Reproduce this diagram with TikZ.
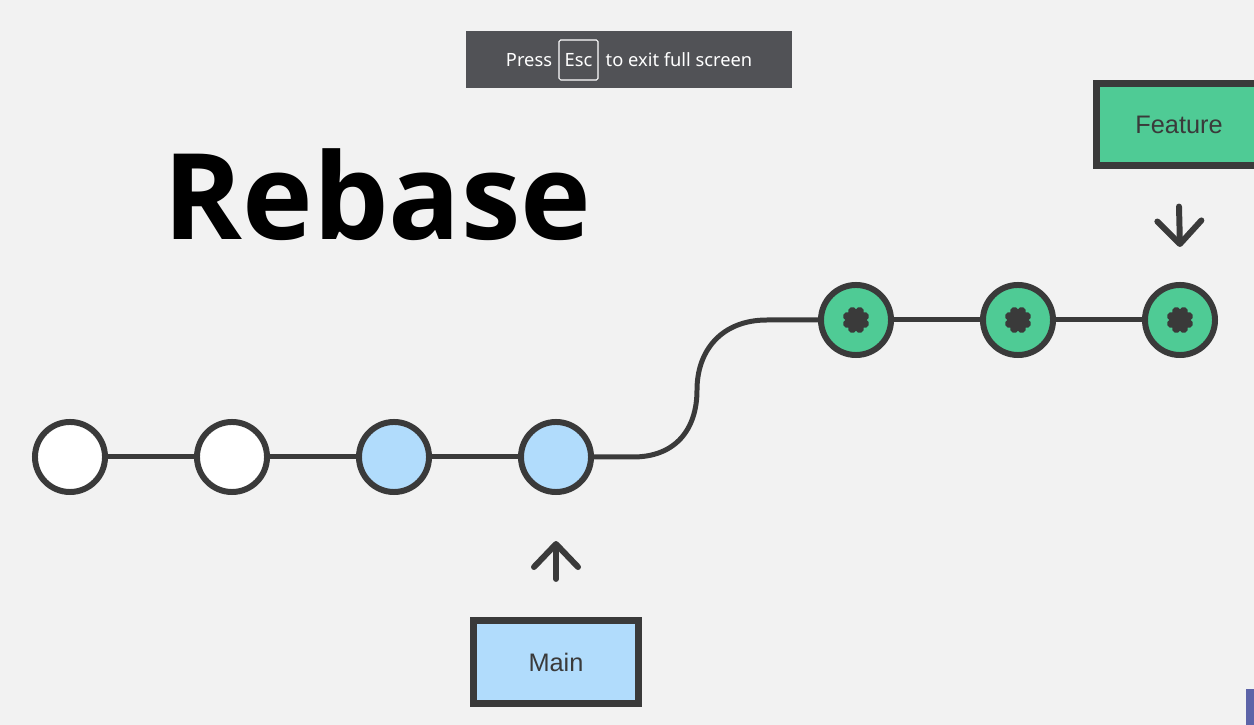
\documentclass[tikz,border=0pt]{standalone}
\usepackage{fontspec}
\setmainfont{Liberation Sans}
\newfontfamily\titlefont{Open Sans}
\newfontfamily\toastfont{Noto Sans}
\usetikzlibrary{arrows.meta,positioning}
\definecolor{bgcol}{HTML}{F2F2F2}
\definecolor{inkcol}{HTML}{3A3A3A}
\definecolor{maincol}{HTML}{B1DCFC}
\definecolor{featcol}{HTML}{4FCB95}
\definecolor{toastcol}{HTML}{515256}
\definecolor{cornercol}{HTML}{5D64A8}
\tikzset{
  commit/.style={circle,draw=inkcol,line width=1.7pt,minimum size=0.70cm,inner sep=0pt},
  link/.style={draw=inkcol,line width=1.42pt},
  branch/.style={draw=inkcol,line width=2pt,minimum width=1.65cm,minimum height=0.82cm,inner sep=0pt,font=\fontsize{7.2pt}{8pt}\selectfont,text=inkcol},
  pointer/.style={draw=inkcol,line width=1.7pt,line cap=round,-{Straight Barb[length=2.3mm,width=4.4mm,round]}},
  toast/.style={text=white,inner sep=0pt,font=\toastfont\fontsize{5.2pt}{6pt}\selectfont},
  petals/.style={draw=inkcol,line width=0.085cm,line cap=round}
}
\newcommand{\flower}[1]{%
  \draw[petals] (#1) +(22.5:0.095cm) -- +(202.5:0.095cm)
    +(67.5:0.095cm) -- +(247.5:0.095cm)
    +(112.5:0.095cm) -- +(292.5:0.095cm)
    +(157.5:0.095cm) -- +(337.5:0.095cm);
}
\begin{document}
\begin{tikzpicture}[x=0.01cm,y=-0.01cm]
  \useasboundingbox (0,0) rectangle (1254,725);
  \clip (0,0) rectangle (1254,725);
  \fill[bgcol] (0,0) rectangle (1254,725);
  % toast
  \fill[toastcol] (466,31) rectangle (792,88);
  \node[toast] (press) at (529,60) {Press};
  \node[toast,draw=white,line width=0.3pt,rounded corners=0.5pt,minimum width=0.39cm,minimum height=0.40cm] (esc) at (578.5,60) {Esc};
  \node[toast] (exit) at (679,60) {to exit full screen};
  % title
  \node[anchor=base west,inner sep=0pt,font=\titlefont\bfseries\fontsize{34pt}{40pt}\selectfont] (title) at (163,240) {Rebase};
  % commits
  \node[commit,fill=white] (m1) at (70,457) {};
  \node[commit,fill=white] (m2) at (232,457) {};
  \node[commit,fill=maincol] (m3) at (394,457) {};
  \node[commit,fill=maincol] (m4) at (556,457) {};
  \node[commit,fill=featcol] (f1) at (856,320) {};
  \node[commit,fill=featcol] (f2) at (1018,320) {};
  \node[commit,fill=featcol] (f3) at (1180,320) {};
  \draw[link] (m1) -- (m2);
  \draw[link] (m2) -- (m3);
  \draw[link] (m3) -- (m4);
  \draw[link] (m4) -- (633,457) .. controls (675,457) and (697,430) .. (697,390)
    .. controls (697,350) and (722,320) .. (767,320) -- (f1);
  \draw[link] (f1) -- (f2);
  \draw[link] (f2) -- (f3);
  \flower{f1}
  \flower{f2}
  \flower{f3}
  % branch labels
  \node[branch,fill=maincol] (main) at (556,662) {Main};
  \node[branch,fill=featcol] (feature) at (1179,124.5) {Feature};
  \draw[pointer] ([yshift=0.385cm]main.north) -- ([yshift=-0.46cm]m4.south);
  \draw[pointer] ([yshift=-0.375cm]feature.south) -- ([yshift=0.35cm]f3.north);
  % corner
  \fill[cornercol] (1246,689) rectangle (1254,725);
\end{tikzpicture}
\end{document}
